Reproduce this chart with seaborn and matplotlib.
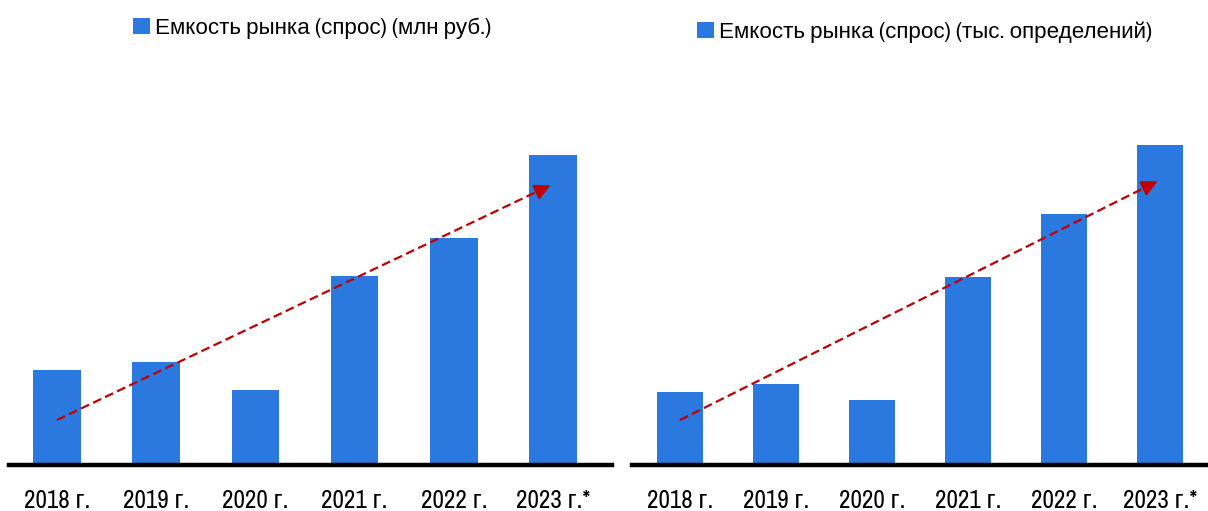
import matplotlib
matplotlib.use("Agg")
import matplotlib.pyplot as plt
import seaborn as sns
import pandas as pd
from matplotlib.patches import Patch
from matplotlib import font_manager

years = ["2018 г.", "2019 г.", "2020 г.", "2021 г.", "2022 г.", "2023 г.*"]
market_rub = [95, 103, 75, 189, 227, 310]
market_units = [73, 81, 65, 188, 251, 320]
label_rub = "Емкость рынка (спрос) (млн руб.)"
label_units = "Емкость рынка (спрос) (тыс. определений)"
trend_rub = [45, 281]
trend_units = [45, 285]

sns.set_theme(style="white")
names = sorted({f.name for f in font_manager.fontManager.ttflist})
narrow = [n for n in names if "Narrow" in n or "Condensed" in n]
fams = (narrow[:1] if narrow else []) + ['Liberation Sans', 'DejaVu Sans']
plt.rcParams['font.family'] = fams
is_narrow = bool(narrow)

BLUE = "#2B78DF"
RED = "#C00000"
W, H = 1208, 511
fig = plt.figure(figsize=(W / 100, H / 100), dpi=100)

tick_size = 18 if is_narrow else 16.5
leg_size = 16.1 if is_narrow else 15.3

def make_panel(rect_px, values, label, trend, xlim, legend_pos):
    x0, x1, ytop = rect_px
    base = 465
    ax = fig.add_axes([x0 / W, (H - base) / H, (x1 - x0) / W, (base - ytop) / H])
    df = pd.DataFrame({"year": years, "value": values})
    sns.barplot(data=df, x="year", y="value", color=BLUE, width=0.48,
                saturation=1, ax=ax, edgecolor="none")
    ax.set_ylim(0, base - ytop)
    ax.set_xlim(*xlim)
    for s in ["top", "right", "left"]:
        ax.spines[s].set_visible(False)
    ax.spines["bottom"].set_color("black")
    ax.spines["bottom"].set_linewidth(3.2)
    ax.set_yticks([])
    ax.set_xlabel("")
    ax.set_ylabel("")
    ax.tick_params(axis="x", length=0, pad=17, labelsize=tick_size, labelcolor="black")
    n = len(years) - 1
    f = (n - 0.1) / n
    ax.plot([0, n - 0.1], [trend[0], trend[0] + (trend[1] - trend[0]) * f],
            linestyle=(0, (4, 2)), color=RED, lw=1.6)
    ax.annotate("", xy=(n, trend[1]),
                xytext=(n - 0.12, trend[0] + (trend[1] - trend[0]) * (n - 0.12) / n),
                arrowprops=dict(arrowstyle="-|>", color=RED, lw=1.5, mutation_scale=24))
    handle = Patch(facecolor=BLUE, edgecolor="none")
    leg = fig.legend([handle], [label], loc="center left",
                     bbox_to_anchor=(legend_pos[0] / W, 1 - legend_pos[1] / H),
                     frameon=False, fontsize=leg_size, handlelength=0.75, handleheight=0.75,
                     handletextpad=0.25, borderpad=0, borderaxespad=0)
    for t in leg.get_texts():
        t.set_color("black")
    return ax

make_panel((9, 612, 100), market_rub, label_rub, trend_rub, (-0.483, 5.594), (133, 28))
make_panel((632, 1208, 100), market_units, label_units, trend_units, (-0.5, 5.5), (697, 32))

fig.savefig("out.png", dpi=100)
